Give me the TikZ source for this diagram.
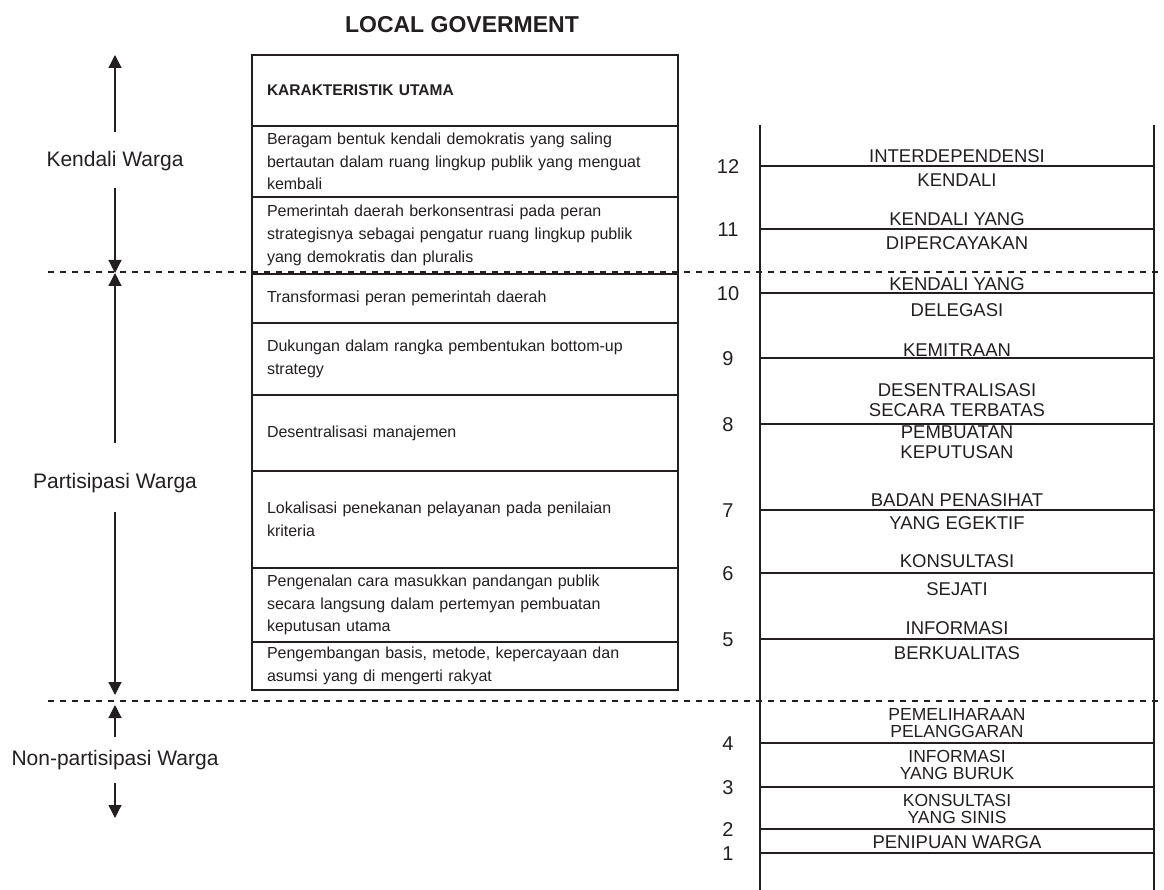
\documentclass[tikz,border=0pt]{standalone}
\usepackage{fontspec}
\setmainfont{Liberation Sans}
\usetikzlibrary{positioning,arrows.meta}
\definecolor{ink}{HTML}{231F20}
\begin{document}
\begin{tikzpicture}[x=1pt, y=-1pt, color=ink, node distance=0pt,
    row/.style={draw, line width=1.6pt, outer sep=0pt, inner xsep=15pt, inner ysep=2pt,
      text width=396pt, align=left, minimum height=#1, font=\fontsize{16}{22.7}\selectfont},
    rail/.style={line width=2.6pt},
    rung/.style={line width=1.8pt},
    rungtxt/.style={align=center, inner sep=0pt, font=\fontsize{18.5}{#1}\selectfont},
    rungtxt/.default=24,
    tighttxt/.style={align=center, inner sep=0pt, font=\fontsize{17.5}{17}\selectfont},
    lvl/.style={font=\fontsize{21}{25}\selectfont, minimum height=46pt, inner sep=0pt},
    lvlarrow/.style={line width=1.2pt, -{Triangle[width=13pt,length=13pt]}},
    divider/.style={line width=2.4pt, dash pattern=on 6pt off 6pt}]
    \useasboundingbox (0,0) rectangle (1164,890);

    \node[font=\fontsize{23}{27}\selectfont\bfseries] (title) at (462,25) {LOCAL GOVERMENT};

    \node[row=71pt, anchor=north west] (head) at (252,55) {\fontsize{15.5}{20}\selectfont\bfseries KARAKTERISTIK UTAMA};
    \node[row=71pt, below=of head] (r1) {Beragam bentuk kendali demokratis yang saling\\bertautan dalam ruang lingkup publik yang menguat\\kembali};
    \node[row=77pt, below=of r1] (r2) {Pemerintah daerah berkonsentrasi pada peran\\strategisnya sebagai pengatur ruang lingkup publik\\yang demokratis dan pluralis};
    \node[row=49pt, below=of r2] (r3) {Transformasi peran pemerintah daerah};
    \node[row=72pt, below=of r3] (r4) {Dukungan dalam rangka pembentukan bottom-up\\strategy};
    \node[row=76pt, below=of r4] (r5) {Desentralisasi manajemen};
    \node[row=97pt, below=of r5] (r6) {Lokalisasi penekanan pelayanan pada penilaian\\kriteria};
    \node[row=74pt, below=of r6] (r7) {Pengenalan cara masukkan pandangan publik\\secara langsung dalam pertemyan pembuatan\\keputusan utama};
    \node[row=48pt, below=of r7] (r8) {Pengembangan basis, metode, kepercayaan dan\\asumsi yang di mengerti rakyat};

    \draw[rail] (760,125) -- (760,890);
    \draw[rail] (1154,125) -- (1154,890);
    \foreach \y/\n in {166/12,229/11,293/10,358/9,424/8,510/7,573/6,639/5,743/4,787/3,829/2,853/1} {
        \draw[rung] (760,\y) -- (1154,\y);
        \node[font=\fontsize{20}{24}\selectfont] (n\n) at (728,\y+1) {\n};
    }
    \node[rungtxt] (t12) at (957,168) {INTERDEPENDENSI\\KENDALI};
    \node[rungtxt] (t11) at (957,231) {KENDALI YANG\\DIPERCAYAKAN};
    \node[rungtxt=26] (t10) at (957,297) {KENDALI YANG\\DELEGASI};
    \node[rungtxt] (t9) at (957,350) {KEMITRAAN};
    \node[rungtxt=20] (t8a) at (957,400) {DESENTRALISASI\\SECARA TERBATAS};
    \node[rungtxt=20] (t8b) at (957,442) {PEMBUATAN\\KEPUTUSAN};
    \node[rungtxt=23] (t7) at (957,511.5) {BADAN PENASIHAT\\YANG EGEKTIF};
    \node[rungtxt=28] (t6) at (957,575) {KONSULTASI\\SEJATI};
    \node[rungtxt=25] (t5) at (957,640.5) {INFORMASI\\BERKUALITAS};
    \node[tighttxt] (t4) at (957,723) {PEMELIHARAAN\\PELANGGARAN};
    \node[tighttxt] (t3) at (957,765) {INFORMASI\\YANG BURUK};
    \node[tighttxt] (t2) at (957,809) {KONSULTASI\\YANG SINIS};
    \node[rungtxt] (t1) at (957,842) {PENIPUAN WARGA};

    \draw[divider] (48,272) -- (1162,272);
    \draw[divider] (48,701) -- (1162,701);

    \node[lvl] (kw) at (115,161) {Kendali Warga};
    \node[lvl] (pw) at (115,483) {Partisipasi Warga};
    \node[lvl] (npw) at (115,760) {Non-partisipasi Warga};
    \coordinate (kw-top) at (115,55);
    \coordinate (kw-bot) at (115,273);
    \coordinate (pw-top) at (115,273);
    \coordinate (pw-bot) at (115,695);
    \coordinate (npw-top) at (115,705);
    \coordinate (npw-bot) at (115,818);
    \draw[lvlarrow, shorten <=6pt] (kw) -- (kw-top);
    \draw[lvlarrow, shorten <=4pt] (kw) -- (kw-bot);
    \draw[lvlarrow, shorten <=17pt] (pw) -- (pw-top);
    \draw[lvlarrow, shorten <=6pt] (pw) -- (pw-bot);
    \draw[lvlarrow] (npw) -- (npw-top);
    \draw[lvlarrow] (npw) -- (npw-bot);
\end{tikzpicture}
\end{document}
